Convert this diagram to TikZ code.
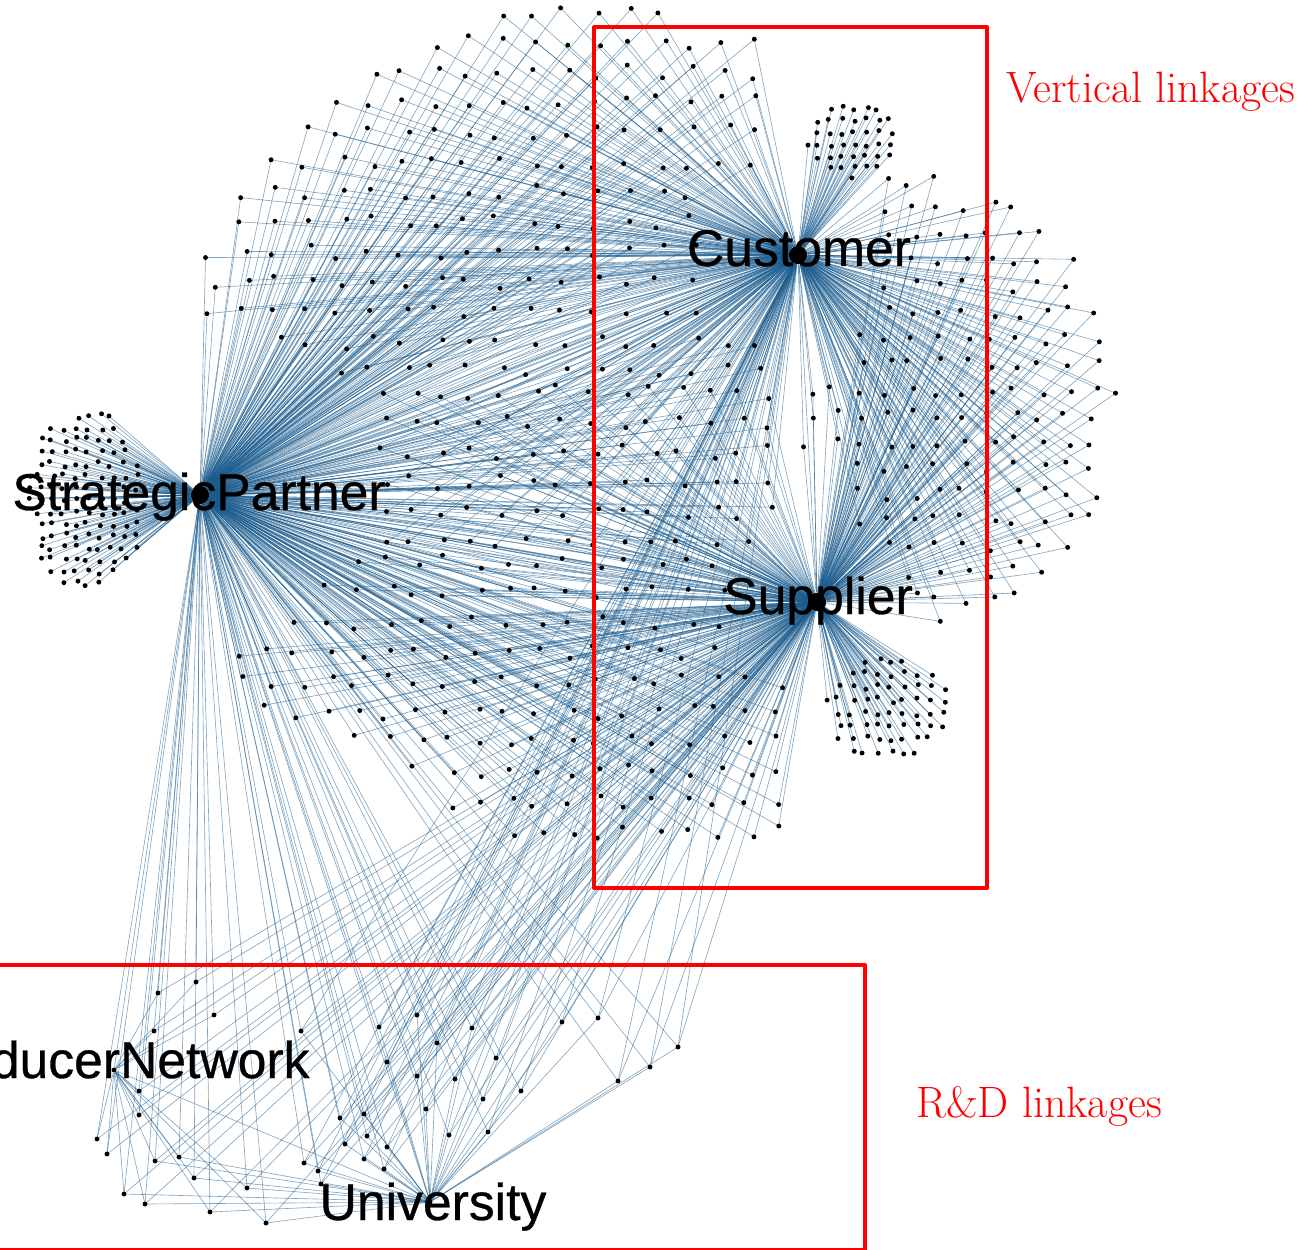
\documentclass[tikz,border=0pt]{standalone}
\usepackage{fontspec}
\newfontfamily\netfont[FakeBold=0.6]{Liberation Sans}
\usetikzlibrary{calc}
\usepackage{color}
\definecolor{linkblue}{RGB}{25,90,140}
\definecolor{boxred}{RGB}{255,0,0}
\tikzset{
	dot/.style={circle, fill=black, inner sep=0pt, minimum size=2.8pt},
	hub/.style={circle, fill=black, inner sep=0pt, minimum size=10.5pt},
	link/.style={draw=linkblue, line width=0.35pt, draw opacity=0.55},
	hublabel/.style={font=\netfont\fontsize{29.4}{30}\selectfont, inner sep=0pt, anchor=base},
	boxlabel/.style={font=\fontsize{25}{27}\selectfont, text=boxred, inner sep=0pt, anchor=base west},
	linkbox/.style={draw=boxred, line width=2.3pt, line join=round}
}
\newif\ifedgepass
\newcommand{\member}[3] % x, y, hubs it is tied to
{
	\ifedgepass
		% first pass: links only
		\coordinate (m) at (#1,#2);
		\foreach \h in {#3} \draw[link] (m) -- (\h);
	\else
		% second pass: the dot on top
		\node[dot] (m) at (#1,#2) {};
	\fi
}
\newcommand{\cloud}[5] % x list, y list, jitter, test, hubs
{
	\foreach \gx in {#1}
		\foreach \gy in {#2}
		{
			\pgfmathsetmacro{\cx}{\gx+#3*rand}
			\pgfmathsetmacro{\cy}{\gy+#3*rand}
			\pgfmathtruncatemacro{\inside}{#4}
			\ifnum\inside=1 \member{\cx}{\cy}{#5}\fi
		}
}
\newcommand{\network}
{
	\pgfmathsetseed{4711}
	% leaves of one hub
	\cloud{28,40,...,150}{404,416,...,596}{3}
		{(veclen((\cx-86)/60,(\cy-500)/92)<1) && (veclen((\cx-200)/100,(\cy-495)/100)>0.62)}
		{sp}
	\cloud{806,818,...,900}{96,108,...,180}{2.5}
		{(veclen((\cx-852)/46,(\cy-138)/40)<1) && (\cy<178)}
		{cust}
	\cloud{826,839,...,952}{648,661,...,764}{3}
		{(veclen((\cx-888)/62,(\cy-708)/52)<1) && (veclen((\cx-817)/100,(\cy-602)/100)>0.62)}
		{supp}
	% shared partners
	\cloud{212,244,...,772}{12,42,...,372}{7}
		{(veclen((\cx-600)/405,(\cy-330)/325)<1) && (\cx+\cy>425) && (veclen((\cx-200)/100,(\cy-495)/100)>1.65) && (veclen((\cx-798)/100,(\cy-255)/100)>0.95)}
		{sp,cust}
	\cloud{382,412,...,772}{392,422,...,542}{7}
		{(veclen((\cx-200)/100,(\cy-495)/100)>1.75) && (veclen((\cx-817)/100,(\cy-602)/100)>0.9) && (veclen((\cx-798)/100,(\cy-255)/100)>0.9) && (\cx<785)}
		{sp,cust,supp}
	\cloud{238,268,...,778}{562,592,...,832}{7}
		{(\cy<690+0.55*(\cx-235)) && (\cy<840) && (veclen((\cx-200)/100,(\cy-495)/100)>1.5) && (veclen((\cx-817)/100,(\cy-602)/100)>0.85)}
		{sp,supp}
	\cloud{808,834,...,1120}{182,208,...,630}{6}
		{(veclen((\cx-920)/200,(\cy-400)/225)<1) && (veclen((\cx-798)/100,(\cy-255)/100)>0.9) && (veclen((\cx-817)/100,(\cy-602)/100)>0.8) && ((\cx>845) || ((\cy>380) && (\cy<460)))}
		{cust,supp}
	% R&D partners
	\foreach \x/\y in {196/982, 158/993, 214/1015, 154/1031, 139/1091, 139/1115, 97/1139, 107/1154}
		{\member{\x}{\y}{sp,supp,pn}}
	\foreach \x/\y in {301/1031, 379/1027, 417/1015, 472/1028, 562/1022, 598/1018, 437/1043, 678/1047,
		387/1062, 496/1058, 417/1076, 455/1079, 650/1067, 618/1081, 521/1091, 483/1099, 340/1118,
		364/1114, 426/1109, 449/1135, 488/1132, 367/1136, 345/1144, 387/1147, 304/1163, 318/1171,
		364/1159, 384/1169, 321/1184}
		{\member{\x}{\y}{sp,supp,cust,univ}}
	\foreach \x/\y in {155/1161, 179/1157, 194/1178, 247/1188, 124/1194, 145/1204, 210/1212, 266/1223}
		{\member{\x}{\y}{sp,supp,pn,univ}}
}

\begin{document}
\begin{tikzpicture}[x=0.02cm, y=-0.02cm]
	% 1309 x 1250 px, y downwards
	\useasboundingbox (0,0) rectangle (1309,1250);
	\clip (0,0) rectangle (1309,1250);

	% hubs
	\node[hub] (sp) at (200,495) {};
	\node[hub] (cust) at (798,255) {};
	\node[hub] (supp) at (817,602) {};
	\node[dot] (pn) at (114,1070) {};
	\node[dot] (univ) at (430,1202) {};

	\foreach \a/\b in {sp/cust, sp/supp, cust/supp, pn/sp, pn/univ, univ/sp, univ/supp, univ/cust, pn/supp}
		\draw[link] (\a) -- (\b);

	\edgepasstrue
	\network
	\edgepassfalse
	\network

	% labels
	\node[hublabel] (sp-label) at (199,510) {StrategicPartner};
	\node[hublabel] (cust-label) at (799,266) {Customer};
	\node[hublabel] (supp-label) at (818,614) {Supplier};
	\node[hublabel] (pn-label) at (110,1078) {ProducerNetwork};
	\node[hublabel] (univ-label) at (433,1220) {University};

	% groups
	\draw[linkbox] (594,27) rectangle (987,888);
	\draw[linkbox] (-10,965) rectangle (865,1250);
	\node[boxlabel] (vert-label) at (1006,102.5) {Vertical linkages};
	\node[boxlabel] (rd-label) at (916,1117) {R\&D linkages};
\end{tikzpicture}
\end{document}
